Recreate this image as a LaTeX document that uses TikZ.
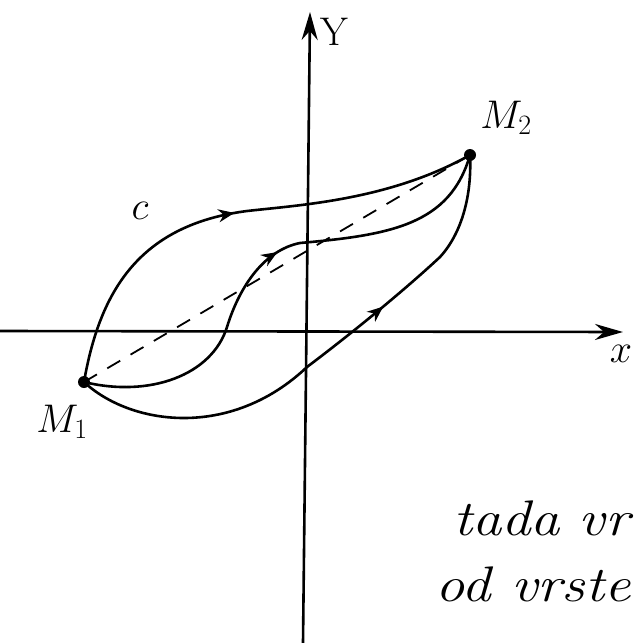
\RequirePackage{fix-cm}
\documentclass[tikz,border=0pt]{standalone}
\usepackage{fontspec}
\usepackage{tikz}
\usetikzlibrary{arrows.meta,decorations.markings,positioning}
\tikzset{
  axisarr/.style={-{Stealth[length=28pt,width=16pt]},line width=2.6pt,color=black},
  curvearr/.style={line width=2.6pt,color=black,postaction={decorate},
    decoration={markings,mark=at position #1 with {\arrow{Stealth[length=16pt,width=13pt]}}}},
  dasharr/.style={line width=1.8pt,dash pattern=on 15pt off 12pt},
  ptnode/.style={circle,fill=black,inner sep=0pt,minimum size=12pt},
  lbl/.style={font=\fontsize{40}{44}\selectfont},
  handtxt/.style={font=\fontsize{50}{58}\selectfont\itshape,
    anchor=base west,inner sep=0pt,xscale=1.17,transform shape}
}

\begin{document}
\begin{tikzpicture}[x=1pt,y=-1pt]
  \useasboundingbox (0,0) rectangle (634,643);
  \clip (0,0) rectangle (634,643);

  % axes
  \coordinate (xL) at (0,331);
  \coordinate (xR) at (623,332);
  \coordinate (yB) at (303,643);
  \coordinate (yT) at (310,12);
  \draw[axisarr] (xL) -- (xR);
  \draw[axisarr] (yB) -- (yT);
  \node[lbl] (lblY) at (334,32) {Y};
  \node[lbl] (lblX) at (621,354) {$x$};

  % end points
  \node[ptnode] (M1) at (84,382) {};
  \node[ptnode] (M2) at (470,155) {};
  \node[lbl] (lblM1) at (62,422) {$M_1$};
  \node[lbl] (lblM2) at (506,118) {$M_2$};
  \node[lbl] (lblC) at (140,211) {$c$};

  % paths from M1 to M2
  \draw[dasharr] (M1.center) -- (M2.center);
  \draw[curvearr=0.5] (M1.center) .. controls (100,290) and (140,225) .. (247,211)
    .. controls (300,205) and (390,200) .. (M2.center);
  \draw[curvearr=0.53] (M1.center) .. controls (150,398) and (212,375) .. (227,327)
    .. controls (240,285) and (265,250) .. (300,243)
    .. controls (390,235) and (450,225) .. (M2.center);
  \draw[curvearr=0.65] (M1.center) .. controls (130,425) and (230,440) .. (307,367)
    .. controls (360,327) and (410,285) .. (440,257)
    .. controls (462,233) and (472,195) .. (M2.center);

  % handwritten text
  \node[handtxt] (txtA) at (453,535) {tada\hspace{16pt}vr};
  \node[handtxt] (txtB) at (435,601) {od vrste};
\end{tikzpicture}
\end{document}
